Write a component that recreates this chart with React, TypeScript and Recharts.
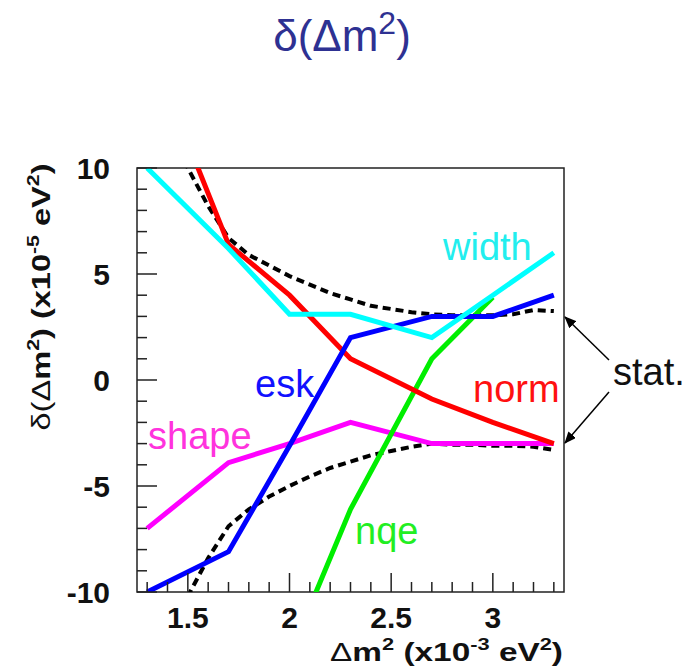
import React from "react";
import { LineChart, Line, XAxis, YAxis, ReferenceArea } from "recharts";

if (typeof document !== "undefined") document.body.style.margin = "0";

const W = 687;
const H = 671;
// plot frame in page pixels
const FRAME = { left: 137, top: 168, right: 564, bottom: 592 };
const FONT = "'Liberation Sans', Arial, Helvetica, sans-serif";

// solid curves, sampled at these dm^2 values (x10^-3 eV^2)
const xSolid = [1.3, 1.7, 2.0, 2.3, 2.7, 3.0, 3.3];
const widthVals = [10, 6.2, 3.1, 3.1, 2.0, 4.0, 6.0];
const normVals = [16, 6.4, 4.0, 1.0, -0.9, -2.0, -3.0];
const eskVals = [-10, -8.1, -3.1, 2.0, 3.0, 3.0, 4.0];
const shapeVals = [-7.0, -3.9, -3.0, -2.0, -3.0, -3.0, -3.0];
const nqeVals = [null, null, -13, -6.1, 1.0, 3.9, null];

// statistical error band (dashed)
const xStat = [1.4, 1.5, 1.6, 1.7, 1.8, 1.9, 2.0, 2.1, 2.2, 2.3, 2.4, 2.5, 2.6, 2.7, 2.8, 2.9, 3.0, 3.1, 3.2, 3.3];
const statUp = [12.0, 10.0, 8.2, 6.7, 5.9, 5.4, 4.9, 4.5, 4.1, 3.8, 3.5, 3.35, 3.2, 3.1, 3.05, 3.05, 3.05, 3.1, 3.3, 3.25];
const statDown = [-12.5, -10.2, -8.4, -6.9, -6.1, -5.5, -5.0, -4.55, -4.15, -3.85, -3.55, -3.35, -3.15, -3.0, -3.05, -3.05, -3.1, -3.1, -3.15, -3.3];

const xTicks = [1.3, 1.4, 1.5, 1.6, 1.7, 1.8, 1.9, 2.0, 2.1, 2.2, 2.3, 2.4, 2.5, 2.6, 2.7, 2.8, 2.9, 3.0, 3.1, 3.2, 3.3];
const xLabels = [1.5, 2, 2.5, 3];
const yTicks = [-10, -9, -8, -7, -6, -5, -4, -3, -2, -1, 0, 1, 2, 3, 4, 5, 6, 7, 8, 9, 10];
const yLabels = [-10, -5, 0, 5, 10];

const solidData = xSolid.map((x, i) => ({
  x,
  width: widthVals[i],
  norm: normVals[i],
  esk: eskVals[i],
  shape: shapeVals[i],
  nqe: nqeVals[i],
}));
const statData = xStat.map((x, i) => ({ x, up: statUp[i], down: statDown[i] }));

const AXIS = "#222";

function XTick(props: any) {
  const { x, y, payload } = props;
  const major = xLabels.includes(payload.value);
  return (
    <g>
      <line x1={x} x2={x} y1={y} y2={y - (major ? 19 : 10)} stroke={AXIS} strokeWidth={1.5} />
      {major && (
        <text x={x} y={y + 36} textAnchor="middle" fontSize={30} fontWeight="bold" fontFamily={FONT} fill="#111">
          {payload.value}
        </text>
      )}
    </g>
  );
}

function YTick(props: any) {
  const { x, y, payload } = props;
  const ax = x + 27;
  const major = yLabels.includes(payload.value);
  return (
    <g>
      <line x1={ax} x2={ax + (major ? 20 : 10)} y1={y} y2={y} stroke={AXIS} strokeWidth={1.5} />
      {major && (
        <text x={x} y={y + 11} textAnchor="end" fontSize={30} fontWeight="bold" fontFamily={FONT} fill="#111">
          {payload.value}
        </text>
      )}
    </g>
  );
}

export default function App() {
  return (
    <div style={{ position: "relative", width: W, height: H, background: "#fff", fontFamily: FONT }}>
      <LineChart
        width={W}
        height={H}
        margin={{ top: FRAME.top, right: W - FRAME.right, bottom: 0, left: 0 }}
      >
        <XAxis
          type="number"
          dataKey="x"
          domain={[1.25, 3.35]}
          ticks={xTicks}
          interval={0}
          height={H - FRAME.bottom}
          axisLine={false}
          tickLine={false}
          tickSize={0}
          tickMargin={0}
          tick={<XTick />}
          allowDataOverflow
        />
        <YAxis
          type="number"
          domain={[-10, 10]}
          ticks={yTicks}
          interval={0}
          width={FRAME.left}
          axisLine={false}
          tickLine={false}
          tickSize={0}
          tickMargin={27}
          tick={<YTick />}
          allowDataOverflow
        />
        <ReferenceArea x1={1.25} x2={3.35} y1={-10} y2={10} fill="none" stroke={AXIS} strokeWidth={1.5} />
        <Line data={statData} dataKey="up" stroke="#000" strokeWidth={4} strokeDasharray="8 5" dot={false} isAnimationActive={false} />
        <Line data={statData} dataKey="down" stroke="#000" strokeWidth={4} strokeDasharray="8 5" dot={false} isAnimationActive={false} />
        <Line data={solidData} dataKey="shape" stroke="#ff00ff" strokeWidth={5} dot={false} isAnimationActive={false} />
        <Line data={solidData} dataKey="nqe" stroke="#00ee00" strokeWidth={5} dot={false} isAnimationActive={false} />
        <Line data={solidData} dataKey="norm" stroke="#ff0000" strokeWidth={5} dot={false} isAnimationActive={false} />
        <Line data={solidData} dataKey="esk" stroke="#0000ff" strokeWidth={5} dot={false} isAnimationActive={false} />
        <Line data={solidData} dataKey="width" stroke="#00ffff" strokeWidth={5} dot={false} isAnimationActive={false} />
      </LineChart>

      <svg width={W} height={H} style={{ position: "absolute", left: 0, top: 0, pointerEvents: "none" }}>
        <defs>
          <marker id="ah" markerWidth="12" markerHeight="10" refX="11" refY="5" orient="auto" markerUnits="userSpaceOnUse">
            <path d="M0,0 L12,5 L0,10 z" fill="#000" />
          </marker>
        </defs>
        <text x={342} y={51} textAnchor="middle" fontSize={44} fill="#2e3192" fontFamily={FONT}>
          δ(Δm<tspan dy={-17} fontSize={32}>2</tspan><tspan dy={17}>)</tspan>
        </text>

        <text
          transform="translate(50,297) rotate(-90)"
          textAnchor="middle"
          fontSize={26}
          fontWeight="bold"
          fill="#111"
          textLength={267}
          lengthAdjust="spacingAndGlyphs"
        >
          <tspan fontWeight="normal">δ(Δ</tspan>m<tspan dy={-11} fontSize={17}>2</tspan>
          <tspan dy={11}>) (x10</tspan><tspan dy={-11} fontSize={17}>-5</tspan>
          <tspan dy={11}> eV</tspan><tspan dy={-11} fontSize={17}>2</tspan><tspan dy={11}>)</tspan>
        </text>

        <text
          x={563}
          y={661}
          textAnchor="end"
          fontSize={26}
          fontWeight="bold"
          fill="#111"
          textLength={233}
          lengthAdjust="spacingAndGlyphs"
        >
          <tspan fontWeight="normal">Δ</tspan>m<tspan dy={-11} fontSize={17}>2</tspan>
          <tspan dy={11}> (x10</tspan><tspan dy={-11} fontSize={17}>-3</tspan>
          <tspan dy={11}> eV</tspan><tspan dy={-11} fontSize={17}>2</tspan><tspan dy={11}>)</tspan>
        </text>

        <text x={443} y={260} fontSize={38} fill="#22eeee">width</text>
        <text x={473} y={402} fontSize={38} fill="#ff1111">norm</text>
        <text x={255} y={397} fontSize={38} fill="#1111ff">esk</text>
        <text x={148} y={449} fontSize={38} fill="#ff33dd">shape</text>
        <text x={355} y={544} fontSize={38} fill="#22ee22">nqe</text>
        <text x={613} y={385} fontSize={38} fill="#111">stat.</text>

        <line x1={609} y1={360} x2={565} y2={317} stroke="#000" strokeWidth={1.5} markerEnd="url(#ah)" />
        <line x1={609} y1={392} x2={565} y2={443} stroke="#000" strokeWidth={1.5} markerEnd="url(#ah)" />
      </svg>
    </div>
  );
}
